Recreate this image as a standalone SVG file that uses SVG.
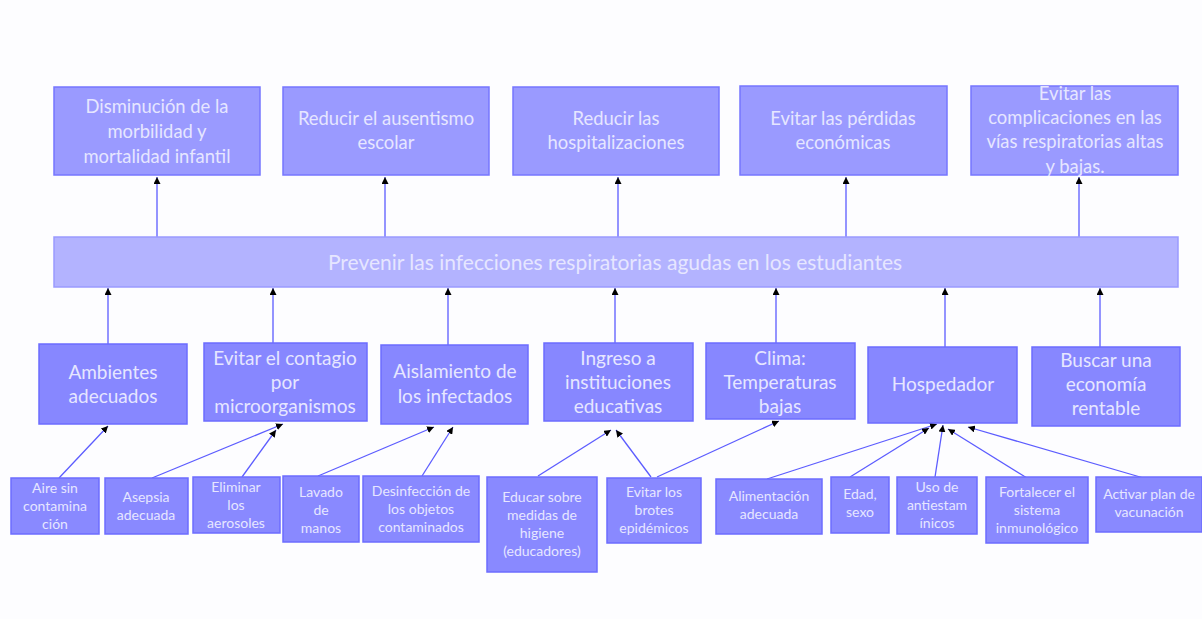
<svg xmlns="http://www.w3.org/2000/svg" width="1202" height="619" viewBox="0 0 1202 619">
<style>
.top{fill:#9a9aff;stroke:#7676ff;stroke-width:1.5}
.bar{fill:#b3b3ff;stroke:#9a9aff;stroke-width:1.5}
.mid{fill:#8787ff;stroke:#6c6cff;stroke-width:1.5}
.bot{fill:#8989ff;stroke:#6c6cff;stroke-width:1.5}
text{font-family:Lato,"Open Sans","Noto Sans",sans-serif;fill:#e6e6ff;text-anchor:middle}
.t{font-size:18.4px}
.b{font-size:21px}
.m{font-size:19px}
.s{font-size:14px}
.c line{stroke:#5c5cff;stroke-width:1.3;marker-end:url(#ah)}
</style>
<defs>
<marker id="ah" viewBox="0 0 10 10" refX="10" refY="5" markerWidth="7" markerHeight="7" markerUnits="userSpaceOnUse" orient="auto">
<path d="M0,0 L10,5 L0,10 z" fill="#000"/>
</marker>
</defs>
<rect width="1202" height="619" fill="#fdfdff"/>

<g id="connectors" class="c">
<line x1="157" y1="237" x2="157" y2="177"/>
<line x1="385" y1="237" x2="385" y2="177"/>
<line x1="618" y1="237" x2="618" y2="177"/>
<line x1="846" y1="237" x2="846" y2="177"/>
<line x1="1079" y1="237" x2="1079" y2="177"/>
<line x1="108" y1="344" x2="108" y2="288"/>
<line x1="273" y1="343" x2="273" y2="288"/>
<line x1="448" y1="345" x2="448" y2="288"/>
<line x1="615" y1="343" x2="615" y2="288"/>
<line x1="776" y1="343" x2="776" y2="288"/>
<line x1="945" y1="347" x2="945" y2="288"/>
<line x1="1100" y1="347" x2="1100" y2="288"/>
<line x1="59" y1="478" x2="108" y2="426"/>
<line x1="152" y1="478" x2="283" y2="424"/>
<line x1="242" y1="477" x2="276" y2="430"/>
<line x1="318" y1="476" x2="434" y2="427"/>
<line x1="422" y1="476" x2="453" y2="427"/>
<line x1="538" y1="476" x2="611" y2="430"/>
<line x1="651" y1="477" x2="616" y2="430"/>
<line x1="657" y1="477" x2="779" y2="421"/>
<line x1="767" y1="479" x2="937" y2="424"/>
<line x1="850" y1="477" x2="929" y2="428"/>
<line x1="935" y1="477" x2="943" y2="425"/>
<line x1="1027" y1="478" x2="948" y2="429"/>
<line x1="1147" y1="479" x2="968" y2="427"/>
</g>

<g id="top1"><rect class="top" x="54" y="87" width="206" height="88"/><text class="t" x="157" y="113">Disminución de la</text><text class="t" x="157" y="138">morbilidad y</text><text class="t" x="157" y="163">mortalidad infantil</text></g>
<g id="top2"><rect class="top" x="283" y="87" width="206" height="88"/><text class="t" x="386" y="125">Reducir el ausentismo</text><text class="t" x="386" y="149">escolar</text></g>
<g id="top3"><rect class="top" x="513" y="87" width="206" height="88"/><text class="t" x="616" y="125">Reducir las</text><text class="t" x="616" y="149">hospitalizaciones</text></g>
<g id="top4"><rect class="top" x="740" y="86" width="207" height="89"/><text class="t" x="843" y="125">Evitar las pérdidas</text><text class="t" x="843" y="149">económicas</text></g>
<g id="top5"><rect class="top" x="971" y="86" width="207" height="89"/><text class="t" x="1075" y="100">Evitar las</text><text class="t" x="1075" y="124">complicaciones en las</text><text class="t" x="1075" y="148">vías respiratorias altas</text><text class="t" x="1075" y="173">y bajas.</text></g>

<g id="bar"><rect class="bar" x="54" y="237" width="1124" height="50"/><text class="b" x="615" y="270">Prevenir las infecciones respiratorias agudas en los estudiantes</text></g>

<g id="mid1"><rect class="mid" x="39" y="344" width="148" height="80"/><text class="m" x="113" y="379">Ambientes</text><text class="m" x="113" y="403">adecuados</text></g>
<g id="mid2"><rect class="mid" x="204" y="343" width="163" height="78"/><text class="m" x="285" y="365">Evitar el contagio</text><text class="m" x="285" y="389">por</text><text class="m" x="285" y="413">microorganismos</text></g>
<g id="mid3"><rect class="mid" x="381" y="345" width="147" height="79"/><text class="m" x="455" y="378">Aislamiento de</text><text class="m" x="455" y="403">los infectados</text></g>
<g id="mid4"><rect class="mid" x="544" y="343" width="149" height="78"/><text class="m" x="618" y="365">Ingreso a</text><text class="m" x="618" y="389">instituciones</text><text class="m" x="618" y="413">educativas</text></g>
<g id="mid5"><rect class="mid" x="706" y="343" width="149" height="76"/><text class="m" x="780" y="365">Clima:</text><text class="m" x="780" y="389">Temperaturas</text><text class="m" x="780" y="413">bajas</text></g>
<g id="mid6"><rect class="mid" x="868" y="347" width="149" height="76"/><text class="m" x="943" y="391">Hospedador</text></g>
<g id="mid7"><rect class="mid" x="1032" y="347" width="148" height="79"/><text class="m" x="1106" y="367">Buscar una</text><text class="m" x="1106" y="391">economía</text><text class="m" x="1106" y="415">rentable</text></g>

<g id="b1"><rect class="bot" x="11" y="478" width="88" height="56"/><text class="s" x="55" y="493">Aire sin</text><text class="s" x="55" y="511">contamina</text><text class="s" x="55" y="529">ción</text></g>
<g id="b2"><rect class="bot" x="105" y="478" width="83" height="56"/><text class="s" x="146" y="502">Asepsia</text><text class="s" x="146" y="520">adecuada</text></g>
<g id="b3"><rect class="bot" x="193" y="477" width="87" height="56"/><text class="s" x="236" y="492">Eliminar</text><text class="s" x="236" y="510">los</text><text class="s" x="236" y="528">aerosoles</text></g>
<g id="b4"><rect class="bot" x="283" y="476" width="76" height="66"/><text class="s" x="321" y="497">Lavado</text><text class="s" x="321" y="515">de</text><text class="s" x="321" y="533">manos</text></g>
<g id="b5"><rect class="bot" x="363" y="476" width="116" height="66"/><text class="s" x="421" y="496">Desinfección de</text><text class="s" x="421" y="514">los objetos</text><text class="s" x="421" y="532">contaminados</text></g>
<g id="b6"><rect class="bot" x="487" y="477" width="110" height="95"/><text class="s" x="542" y="502">Educar sobre</text><text class="s" x="542" y="520">medidas de</text><text class="s" x="542" y="538">higiene</text><text class="s" x="542" y="556">(educadores)</text></g>
<g id="b7"><rect class="bot" x="607" y="478" width="94" height="65"/><text class="s" x="654" y="497">Evitar los</text><text class="s" x="654" y="515">brotes</text><text class="s" x="654" y="533">epidémicos</text></g>
<g id="b8"><rect class="bot" x="716" y="479" width="106" height="55"/><text class="s" x="769" y="501">Alimentación</text><text class="s" x="769" y="519">adecuada</text></g>
<g id="b9"><rect class="bot" x="831" y="477" width="58" height="56"/><text class="s" x="860" y="499">Edad,</text><text class="s" x="860" y="517">sexo</text></g>
<g id="b10"><rect class="bot" x="897" y="477" width="80" height="57"/><text class="s" x="937" y="492">Uso de</text><text class="s" x="937" y="510">antiestam</text><text class="s" x="937" y="528">ínicos</text></g>
<g id="b11"><rect class="bot" x="986" y="477" width="102" height="66"/><text class="s" x="1037" y="497">Fortalecer el</text><text class="s" x="1037" y="515">sistema</text><text class="s" x="1037" y="533">inmunológico</text></g>
<g id="b12"><rect class="bot" x="1096" y="477" width="106" height="55"/><text class="s" x="1149" y="499">Activar plan de</text><text class="s" x="1149" y="517">vacunación</text></g>
</svg>
